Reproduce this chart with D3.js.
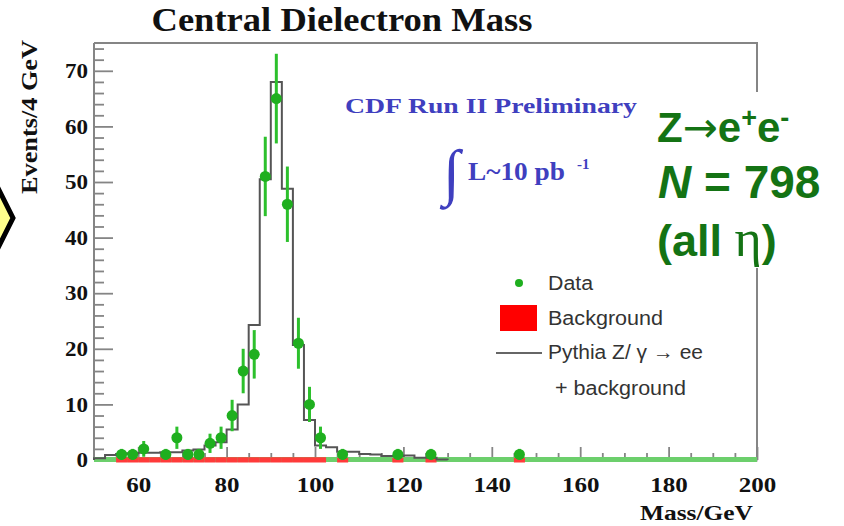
<!DOCTYPE html>
<html>
<head>
<meta charset="utf-8">
<script src="https://cdn.jsdelivr.net/npm/d3@7"></script>
<style>
  body { margin: 0; background: #fff; }
</style>
</head>
<body>
<div id="chart"></div>
<script>
// Pythia Z/gamma -> ee + background, bin edges (GeV) and contents
var mcEdges = [50, 52.5, 55, 57.5, 60, 62.5, 65, 67.5, 70, 72.5, 75, 77.5, 80, 82.5, 85, 87.5,
  90, 92.5, 95, 97.5, 100, 102.5, 105, 107.5, 110, 112.5, 115, 117.5, 120, 122.5, 125, 127.5, 130];
var mcCounts = [0.3, 0.9, 1.1, 1.2, 1.3, 1.3, 1.4, 1.4, 1.7, 1.9, 2.6, 3.2, 5.5, 10, 24.3, 50.5,
  68, 48.8, 20.7, 7.2, 2.6, 2.3, 1.5, 1.5, 1.1, 1.0, 0.7, 0.7, 0.8, 0.4, 0.4, 0.1];

// data points (bin centres) and counts
var dataMass = [56.25, 58.75, 61.25, 66.25, 68.75, 71.25, 73.75, 76.25, 78.75, 81.25, 83.75,
  86.25, 88.75, 91.25, 93.75, 96.25, 98.75, 101.25, 106.25, 118.75, 126.25, 146.25];
var dataCounts = [1, 1, 2, 1, 4, 1, 1, 3, 4, 8, 16, 19, 51, 65, 46, 21, 10, 4, 1, 1, 1, 1];

// background bins (lower edge, width 2.5 GeV)
var bkgLow = [55, 57.5, 60, 62.5, 65, 67.5, 70, 72.5, 75, 77.5, 80, 82.5, 85, 87.5, 90, 92.5,
  95, 97.5, 100, 105, 117.5, 125, 145];
var bkgCounts = [0.5, 0.5, 0.5, 0.5, 0.5, 0.5, 0.5, 0.5, 0.5, 0.5, 0.5, 0.5, 0.5, 0.5, 0.5, 0.5,
  0.5, 0.5, 0.5, 0.4, 0.4, 0.4, 0.4];
var bkgWidth = 2.5;

var xTicks = [60, 80, 100, 120, 140, 160, 180, 200];
var xMinor = [55, 65, 70, 75, 85, 90, 95, 105, 110, 115, 125, 130, 135, 145, 150, 155,
  165, 170, 175, 185, 190, 195];
var yTicks = [0, 10, 20, 30, 40, 50, 60, 70];
var yMinor = [2, 4, 6, 8, 12, 14, 16, 18, 22, 24, 26, 28, 32, 34, 36, 38, 42, 44, 46, 48,
  52, 54, 56, 58, 62, 64, 66, 68, 72, 74];

var legendLabels = ["Data", "Background", "Pythia Z/ \u03b3 \u2192 ee", "+ background"];

var SERIF = "Liberation Serif, Times New Roman, serif";
var SANS = "Liberation Sans, Arial, sans-serif";

var W = 844, H = 526;
var svg = d3.select("#chart").append("svg")
  .attr("width", W).attr("height", H)
  .attr("viewBox", [0, 0, W, H])
  .attr("font-family", SERIF);

var x = d3.scaleLinear().domain([50, 200]).range([94, 757]);
var y = d3.scaleLinear().domain([0, 75]).range([460, 43]);

var gray = "#858585";
var dataGreen = "#1faf1f";

// yellow marker on the left edge
svg.append("polygon")
  .attr("points", [[-5, 182], [13, 218], [-5, 254], [-23, 218]].join(" "))
  .attr("fill", "#ffff8c").attr("stroke", "#000").attr("stroke-width", 5);

// frame (top + right)
svg.append("path")
  .attr("d", "M" + x(50) + "," + y(75) + "H" + x(200) + "V" + y(0))
  .attr("fill", "none").attr("stroke", gray).attr("stroke-width", 2);

// y axis
var yAxis = svg.append("g").attr("transform", "translate(" + x(50) + ",0)")
  .call(d3.axisLeft(y).tickValues(yTicks).tickSize(-19).tickPadding(6).tickSizeOuter(0));
svg.append("g").attr("transform", "translate(" + x(50) + ",0)")
  .call(d3.axisLeft(y).tickValues(yMinor).tickSize(-10).tickFormat("").tickSizeOuter(0))
  .select(".domain").remove();
yAxis.select(".domain").attr("d", "M0," + y(75) + "V" + y(0));

// x axis
var xAxis = svg.append("g").attr("transform", "translate(0," + y(0) + ")")
  .call(d3.axisBottom(x).tickValues(xTicks).tickSize(-13).tickPadding(17).tickSizeOuter(0));
svg.append("g").attr("transform", "translate(0," + y(0) + ")")
  .call(d3.axisBottom(x).tickValues(xMinor).tickSize(-7).tickFormat("").tickSizeOuter(0))
  .select(".domain").remove();

svg.selectAll(".tick line").attr("stroke", gray).attr("stroke-width", 1.8);
svg.selectAll(".domain").attr("stroke", gray).attr("stroke-width", 2);
svg.selectAll(".tick text")
  .attr("font-size", 21).attr("font-weight", "bold").attr("fill", "#111")
  .attr("font-family", SERIF);
xAxis.selectAll(".tick text")
  .attr("textLength", function (d) { return String(d).length * 12.5; })
  .attr("lengthAdjust", "spacingAndGlyphs");
yAxis.selectAll(".tick text")
  .attr("textLength", function (d) { return String(d).length * 11.5; })
  .attr("lengthAdjust", "spacingAndGlyphs");

// green zero line of the data histogram
svg.append("line")
  .attr("x1", x(50)).attr("x2", x(200))
  .attr("y1", y(0) - 0.5).attr("y2", y(0) - 0.5)
  .attr("stroke", "#6ccf6c").attr("stroke-width", 5);

// background
svg.append("g").selectAll("rect")
  .data(bkgLow)
  .join("rect")
  .attr("x", function (d) { return x(d); })
  .attr("width", function (d) { return x(d + bkgWidth) - x(d); })
  .attr("y", function (d, i) { return y(bkgCounts[i]); })
  .attr("height", function (d, i) { return y(0) + 2.5 - y(bkgCounts[i]); })
  .attr("fill", "#ff3a3a");

// MC histogram as step line
var pts = [[mcEdges[0], 0]];
mcCounts.forEach(function (v, i) {
  pts.push([mcEdges[i], v]);
  pts.push([mcEdges[i + 1], v]);
});
pts.push([mcEdges[mcEdges.length - 1], 0]);
svg.append("path")
  .datum(pts)
  .attr("d", d3.line().x(function (d) { return x(d[0]); }).y(function (d) { return y(d[1]); }))
  .attr("fill", "none").attr("stroke", "#555").attr("stroke-width", 2);

// data points with sqrt(N) errors
var pg = svg.append("g");
pg.selectAll("line")
  .data(dataMass)
  .join("line")
  .attr("x1", function (d) { return x(d); })
  .attr("x2", function (d) { return x(d); })
  .attr("y1", function (d, i) { return y(dataCounts[i] - Math.sqrt(dataCounts[i])); })
  .attr("y2", function (d, i) { return y(dataCounts[i] + Math.sqrt(dataCounts[i])); })
  .attr("stroke", "#2cc02c").attr("stroke-width", 3);
pg.selectAll("circle")
  .data(dataMass)
  .join("circle")
  .attr("cx", function (d) { return x(d); })
  .attr("cy", function (d, i) { return y(dataCounts[i]); })
  .attr("r", 5.5)
  .attr("fill", dataGreen);

// titles
svg.append("text")
  .attr("x", 342).attr("y", 31).attr("text-anchor", "middle")
  .attr("font-size", 33).attr("font-weight", "bold").attr("fill", "#111")
  .attr("textLength", 381).attr("lengthAdjust", "spacingAndGlyphs")
  .text("Central Dielectron Mass");

svg.append("text")
  .attr("transform", "translate(37,117) rotate(-90)")
  .attr("text-anchor", "middle")
  .attr("font-size", 23).attr("font-weight", "bold").attr("fill", "#111")
  .attr("textLength", 154).attr("lengthAdjust", "spacingAndGlyphs")
  .text("Events/4 GeV");

svg.append("text")
  .attr("x", 753).attr("y", 520).attr("text-anchor", "end")
  .attr("font-size", 20).attr("font-weight", "bold").attr("fill", "#111")
  .attr("textLength", 113).attr("lengthAdjust", "spacingAndGlyphs")
  .text("Mass/GeV");

// CDF label
var blue = "#3f3fbf";
svg.append("text")
  .attr("x", 345).attr("y", 113)
  .attr("font-size", 22).attr("font-weight", "bold").attr("fill", blue)
  .attr("textLength", 292).attr("lengthAdjust", "spacingAndGlyphs")
  .text("CDF Run II Preliminary");
svg.append("text")
  .attr("x", 443).attr("y", 193)
  .attr("font-size", 62).attr("fill", blue)
  .text("\u222b");
svg.append("text")
  .attr("x", 468).attr("y", 180)
  .attr("font-size", 26).attr("font-weight", "bold").attr("fill", blue)
  .attr("textLength", 97).attr("lengthAdjust", "spacingAndGlyphs")
  .text("L~10 pb");
svg.append("text")
  .attr("x", 577).attr("y", 169)
  .attr("font-size", 15).attr("font-weight", "bold").attr("fill", blue)
  .text("-1");

// legend
svg.append("circle").attr("cx", 519).attr("cy", 283).attr("r", 4).attr("fill", dataGreen);
svg.append("rect").attr("x", 500).attr("y", 305).attr("width", 37).attr("height", 26).attr("fill", "#ff0000");
svg.append("line").attr("x1", 496).attr("x2", 542).attr("y1", 353).attr("y2", 353)
  .attr("stroke", "#333").attr("stroke-width", 1.5);
var legY = [290, 325, 359, 395];
var legX = [548, 548, 548, 555];
var legLen = [45, 115, 155, 131];
svg.append("g").selectAll("text")
  .data(legendLabels)
  .join("text")
  .attr("x", function (d, i) { return legX[i]; })
  .attr("y", function (d, i) { return legY[i]; })
  .attr("font-family", "Liberation Sans, DejaVu Sans, sans-serif")
  .attr("font-size", 20).attr("fill", "#333")
  .attr("textLength", function (d, i) { return legLen[i]; })
  .attr("lengthAdjust", "spacingAndGlyphs")
  .text(function (d) { return d; });

// green annotation on a white box
svg.append("rect").attr("x", 645).attr("y", 92).attr("width", 199).attr("height", 176).attr("fill", "#fff");
var green = "#147314";
var t1 = svg.append("text").attr("x", 657).attr("y", 142)
  .attr("font-family", SANS)
  .attr("font-size", 42).attr("font-weight", "bold").attr("fill", green);
t1.append("tspan").text("Z");
t1.append("tspan").attr("font-weight", "normal").attr("font-family", "DejaVu Sans, sans-serif").text("\u2192");
t1.append("tspan").text("e");
t1.append("tspan").attr("font-size", 27).attr("dy", -15).text("+");
t1.append("tspan").attr("dy", 15).text("e");
t1.append("tspan").attr("font-size", 27).attr("dy", -15).text("-");

var t2 = svg.append("text").attr("x", 658).attr("y", 198)
  .attr("font-family", SANS)
  .attr("font-size", 46).attr("font-weight", "bold").attr("fill", green);
t2.append("tspan").attr("font-style", "italic").text("N");
t2.append("tspan").text(" = 798");

var t3 = svg.append("text").attr("x", 657).attr("y", 256)
  .attr("font-family", SANS)
  .attr("font-size", 45).attr("font-weight", "bold").attr("fill", green);
t3.append("tspan").text("(all ");
t3.append("tspan").attr("font-family", SERIF).attr("font-weight", "normal").attr("font-size", 52).text("\u03b7");
t3.append("tspan").text(")");
</script>
</body>
</html>
